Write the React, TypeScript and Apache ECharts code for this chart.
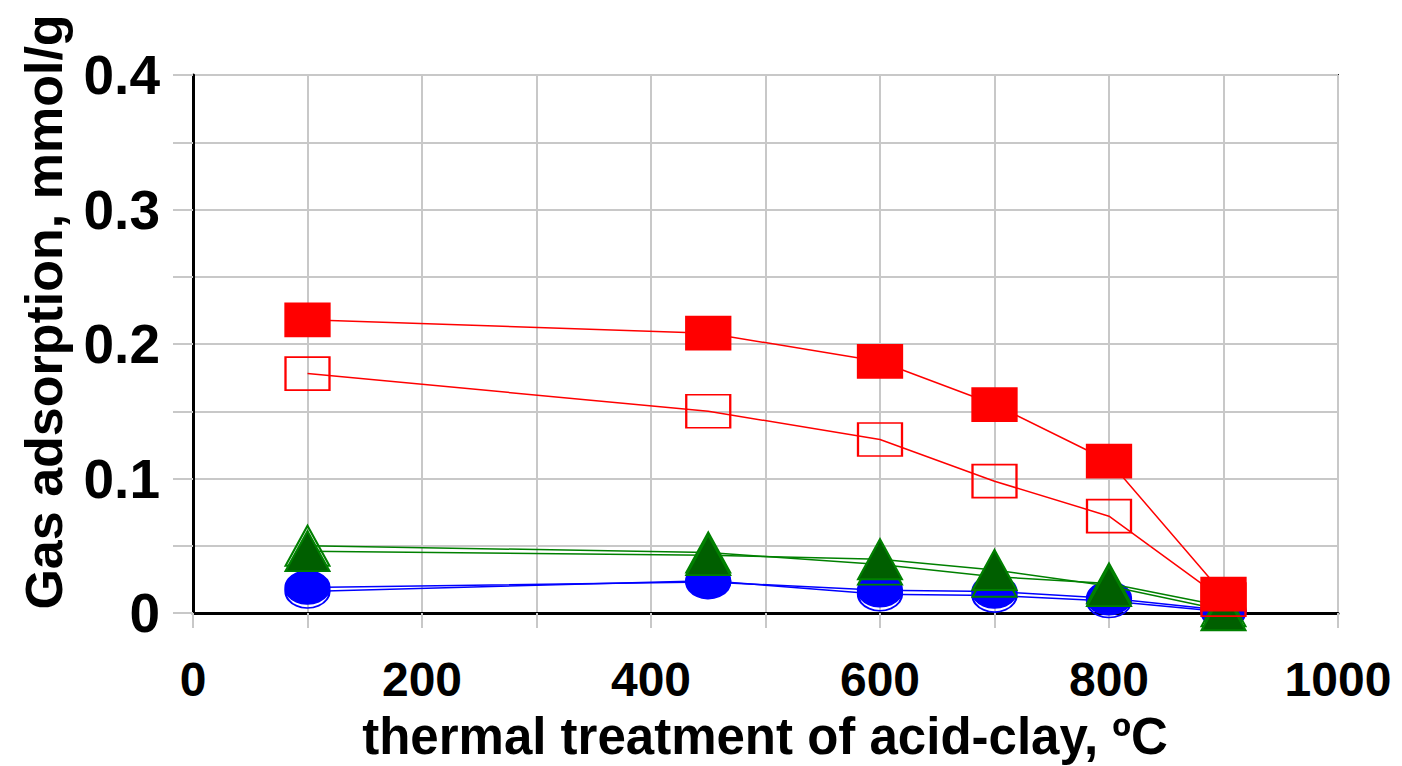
import React, { useEffect, useRef } from "react";
import * as echarts from "echarts";

const temps = [100, 450, 600, 700, 800, 900];
const redFilled = [0.218, 0.208, 0.187, 0.155, 0.113, 0.014];
const redOpen = [0.178, 0.15, 0.129, 0.098, 0.072, 0.01];
const greenFilled = [0.046, 0.043, 0.04, 0.032, 0.02, 0.002];
const greenOpen = [0.05, 0.045, 0.036, 0.027, 0.022, 0.005];
const blueFilled = [0.019, 0.023, 0.017, 0.016, 0.011, 0.002];
const blueOpen = [0.016, 0.024, 0.014, 0.013, 0.009, 0.001];

const xTitle = "thermal treatment of acid-clay, ºC";
const yTitle = "Gas adsorption, mmol/g";

const FONT = "'Liberation Sans', Arial, sans-serif";

function pts(vals: number[]) {
  return temps.map((t, i) => [t, vals[i]]);
}

export default function App() {
  const ref = useRef<HTMLDivElement>(null);
  useEffect(() => {
    if (!ref.current) return;
    const chart = echarts.init(ref.current, null, { renderer: "svg" });
    const mk = (
      name: string,
      data: number[],
      symbol: string,
      size: number[],
      lineColor: string,
      fill: string,
      border: string,
      z: number
    ) => ({
      name,
      type: "line",
      data: pts(data),
      symbol,
      symbolSize: size,
      showAllSymbol: true,
      clip: false,
      z,
      lineStyle: { color: lineColor, width: 1.5 },
      itemStyle: { color: fill, borderColor: border, borderWidth: 2 },
    });
    chart.setOption({
      animation: false,
      backgroundColor: "#ffffff",
      grid: {
        left: 193,
        right: 64,
        top: 75,
        bottom: 153,
        show: true,
        borderColor: "#222",
        borderWidth: 2,
      },
      xAxis: {
        type: "value",
        min: 0,
        max: 1000,
        interval: 100,
        axisLine: { show: true, onZero: false, lineStyle: { color: "#000", width: 3 } },
        axisTick: { show: true, inside: false, length: 15, lineStyle: { color: "#c8c8c8", width: 2 } },
        splitLine: { show: true, lineStyle: { color: "#c8c8c8", width: 2 } },
        axisLabel: {
          margin: 42,
          color: "#000",
          fontFamily: FONT,
          fontWeight: "bold",
          fontSize: 48,
          formatter: (v: number) => (Math.round(v) % 200 === 0 ? String(Math.round(v)) : ""),
        },
      },
      yAxis: {
        type: "value",
        min: 0,
        max: 0.4,
        interval: 0.05,
        axisLine: { show: true, onZero: false, lineStyle: { color: "#000", width: 3 } },
        axisTick: { show: true, inside: false, length: 20, lineStyle: { color: "#c8c8c8", width: 2 } },
        splitLine: { show: true, lineStyle: { color: "#c8c8c8", width: 2 } },
        axisLabel: {
          margin: 33,
          color: "#000",
          fontFamily: FONT,
          fontWeight: "bold",
          fontSize: 55,
          formatter: (v: number) => {
            const k = Math.round(v * 100);
            if (k % 10 !== 0) return "";
            return k === 0 ? "0" : (k / 100).toFixed(1);
          },
        },
      },
      graphic: [
        {
          type: "text",
          x: 44,
          y: 312,
          rotation: Math.PI / 2,
          style: {
            text: yTitle,
            fill: "#000",
            font: `bold 52px ${FONT}`,
            align: "center",
            verticalAlign: "middle",
          },
        },
        {
          type: "text",
          x: 765,
          y: 736,
          style: {
            text: xTitle,
            fill: "#000",
            font: `bold 51px ${FONT}`,
            align: "center",
            verticalAlign: "middle",
          },
        },
      ],
      series: [
        mk("blue open", blueOpen, "circle", [44, 33], "#0000ff", "rgba(0,0,0,0)", "#0000ff", 2),
        mk("blue filled", blueFilled, "circle", [44, 33], "#0000ff", "#0000ff", "#0000ff", 3),
        mk("green open", greenOpen, "triangle", [44, 40], "#008000", "rgba(0,0,0,0)", "#008000", 4),
        mk("green filled", greenFilled, "triangle", [44, 40], "#008000", "#005f00", "#008000", 5),
        mk("red open", redOpen, "rect", [44, 33], "#ff0000", "rgba(0,0,0,0)", "#ff0000", 6),
        mk("red filled", redFilled, "rect", [44, 33], "#ff0000", "#ff0000", "#ff0000", 7),
      ],
    });
    return () => chart.dispose();
  }, []);
  return (
    <div
      ref={ref}
      style={{ position: "fixed", left: 0, top: 0, width: 1402, height: 766, background: "#fff" }}
    />
  );
}
